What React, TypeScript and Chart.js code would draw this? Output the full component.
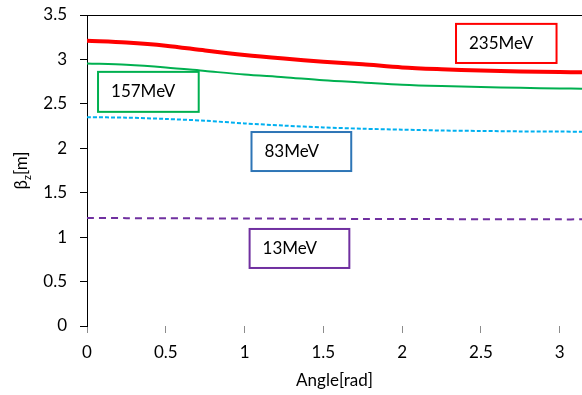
import React, { useEffect, useRef } from "react";
import { Chart, registerables } from "chart.js";

Chart.register(...registerables);

const angles = [0, 0.25, 0.5, 0.75, 1.0, 1.25, 1.5, 1.75, 2.0, 2.25, 2.5, 2.75, 3.0, 3.1416];
const beta235 = [3.21, 3.19, 3.155, 3.1, 3.05, 3.01, 2.975, 2.945, 2.91, 2.89, 2.875, 2.865, 2.858, 2.855];
const beta157 = [2.955, 2.94, 2.91, 2.87, 2.83, 2.8, 2.765, 2.74, 2.715, 2.7, 2.69, 2.68, 2.673, 2.67];
const beta83 = [2.35, 2.345, 2.33, 2.31, 2.28, 2.255, 2.235, 2.22, 2.21, 2.2, 2.195, 2.19, 2.188, 2.187];
const beta13 = [1.215, 1.214, 1.213, 1.211, 1.21, 1.208, 1.207, 1.205, 1.204, 1.203, 1.202, 1.201, 1.2, 1.2];

const labelTexts = ["235MeV", "157MeV", "83MeV", "13MeV"];
const labelX0 = [2.342, 0.07, 1.044, 1.032];
const labelX1 = [2.98, 0.709, 1.677, 1.665];
const labelY0 = [3.4, 2.86, 2.183, 1.092];
const labelY1 = [2.96, 2.41, 1.744, 0.653];
const labelColors = ["#FF0000", "#00B050", "#2E75B6", "#7030A0"];

const FONT = "Lato";

const pts = (ys: number[]) => angles.map((x, i) => ({ x, y: ys[i] }));

const annotationPlugin = {
  id: "boxLabels",
  afterDraw(chart: any) {
    const ctx = chart.ctx;
    const xs = chart.scales.x;
    const ys = chart.scales.y;
    ctx.save();
    labelTexts.forEach((t, i) => {
      const x0 = xs.getPixelForValue(labelX0[i]);
      const x1 = xs.getPixelForValue(labelX1[i]);
      const y0 = ys.getPixelForValue(labelY0[i]);
      const y1 = ys.getPixelForValue(labelY1[i]);
      ctx.fillStyle = "#fff";
      ctx.fillRect(x0, y0, x1 - x0, y1 - y0);
      ctx.strokeStyle = labelColors[i];
      ctx.lineWidth = 2;
      ctx.strokeRect(x0, y0, x1 - x0, y1 - y0);
      ctx.fillStyle = "#000";
      ctx.font = `17px ${FONT}`;
      ctx.textAlign = "left";
      ctx.textBaseline = "middle";
      ctx.fillText(t, x0 + 13, (y0 + y1) / 2);
    });
    // y-axis title with subscript
    const cx = 22;
    const cy = (chart.chartArea.top + chart.chartArea.bottom) / 2;
    ctx.translate(cx, cy);
    ctx.rotate(-Math.PI / 2);
    ctx.fillStyle = "#000";
    ctx.textBaseline = "middle";
    ctx.font = `17px ${FONT}`;
    const w1 = ctx.measureText("β").width;
    ctx.font = `11px ${FONT}`;
    const w2 = ctx.measureText("z").width;
    ctx.font = `17px ${FONT}`;
    const w3 = ctx.measureText("[m]").width;
    let sx = -(w1 + w2 + w3) / 2;
    ctx.textAlign = "left";
    ctx.fillText("β", sx, 0);
    sx += w1;
    ctx.font = `11px ${FONT}`;
    ctx.fillText("z", sx, 5);
    sx += w2;
    ctx.font = `17px ${FONT}`;
    ctx.fillText("[m]", sx, 0);
    ctx.restore();
  },
};

export default function App() {
  const ref = useRef<HTMLCanvasElement | null>(null);
  useEffect(() => {
    document.body.style.margin = "0";
    const canvas = ref.current!;
    const chart = new Chart(canvas, {
      type: "line",
      data: {
        datasets: [
          { label: "235MeV", data: pts(beta235), borderColor: "#FF0000", borderWidth: 4, pointRadius: 0, tension: 0.3 },
          { label: "157MeV", data: pts(beta157), borderColor: "#00B050", borderWidth: 2, pointRadius: 0, tension: 0.3 },
          { label: "83MeV", data: pts(beta83), borderColor: "#00B0F0", borderWidth: 2, borderDash: [4, 2], pointRadius: 0, tension: 0.3 },
          { label: "13MeV", data: pts(beta13), borderColor: "#7030A0", borderWidth: 2, borderDash: [7, 5], pointRadius: 0, tension: 0.3 },
        ],
      },
      options: {
        animation: false,
        responsive: false,
        maintainAspectRatio: false,
        layout: { padding: { top: 15, right: 0, left: 0, bottom: 0 } },
        plugins: { legend: { display: false }, tooltip: { enabled: false } },
        scales: {
          x: {
            type: "linear",
            min: 0,
            max: Math.PI,
            afterFit: (s: any) => { s.height = 69; s.paddingLeft = 0; s.paddingRight = 0; },
            ticks: { stepSize: 0.5, includeBounds: false, color: "#000", padding: 9, font: { family: FONT, size: 17 }, callback: (v: any) => String(v) },
            grid: { drawOnChartArea: false, tickLength: 7, tickColor: "#8c8c8c", color: "#8c8c8c" },
            border: { display: false },
            title: { display: true, text: "Angle[rad]", color: "#000", font: { family: FONT, size: 17 }, padding: { top: 0, bottom: 4 } },
          },
          y: {
            min: 0,
            max: 3.5,
            afterFit: (s: any) => { s.width = 87; s.paddingTop = 0; s.paddingBottom = 0; },
            ticks: { stepSize: 0.5, color: "#000", padding: 13, font: { family: FONT, size: 17 }, callback: (v: any) => String(v) },
            grid: {
              drawOnChartArea: true,
              tickLength: 7,
              tickColor: "#000",
              color: (c: any) => (c.tick && c.tick.value === 3.5 ? "#000" : "rgba(0,0,0,0)"),
            },
            border: { display: true, color: "#000", width: 1 },
          },
        },
      },
      plugins: [annotationPlugin],
    });
    return () => chart.destroy();
  }, []);
  return (
    <div style={{ position: "fixed", left: 0, top: 0, width: 582, height: 395, background: "#fff" }}>
      <canvas ref={ref} width={582} height={395} style={{ width: 582, height: 395 }} />
    </div>
  );
}
